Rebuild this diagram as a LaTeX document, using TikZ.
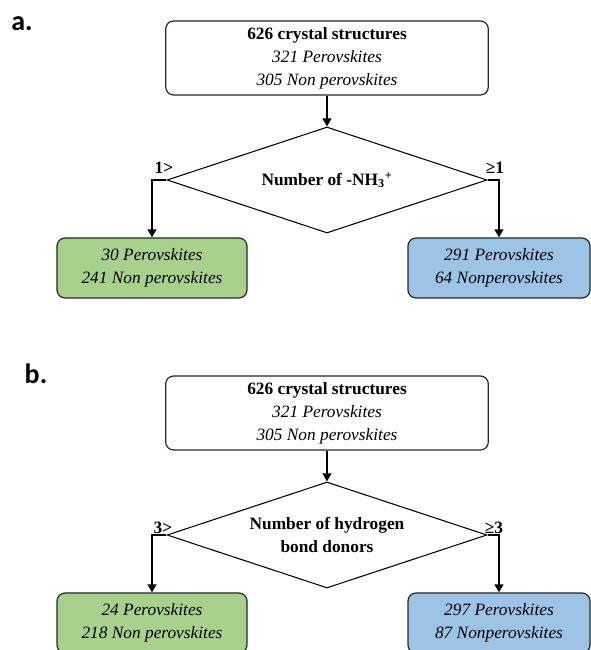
\documentclass[tikz,border=0pt]{standalone}
\usepackage{fontspec}
\setmainfont{Liberation Serif}
\newfontfamily\panelfont{Carlito}
\usetikzlibrary{shapes.geometric,arrows.meta}
\definecolor{leafgreen}{HTML}{A9D18E}
\definecolor{leafblue}{HTML}{9DC3E6}
\begin{document}
\begin{tikzpicture}[x=0.75pt, y=-0.75pt,
    every node/.style={font=\fontsize{13}{17.3}\selectfont, align=center, inner sep=0pt},
    startbox/.style={draw=black!85, line width=0.9pt, rounded corners=6pt, minimum width=242pt, minimum height=55.5pt},
    leafbox/.style={draw=black!85, line width=0.9pt, rounded corners=6pt, minimum width=142.5pt, minimum height=45pt},
    decision/.style={draw, line width=0.8pt, diamond, aspect=3, minimum width=240pt, minimum height=79.5pt},
    flow/.style={line width=1.9pt, -{Triangle[length=6pt,width=6.5pt]}},
    branch/.style={font=\fontsize{13}{15}\selectfont\bfseries},
    panel/.style={font=\fontsize{21}{21}\selectfont\panelfont\bfseries}]
    \useasboundingbox (0,0) rectangle (591,650);
    \clip (0,0) rectangle (591,650);
    \node[panel] (tagA) at (22,24) {a.};
    \node[startbox] (allA) at (327,58) {\textbf{626 crystal structures}\\ \textit{321 Perovskites}\\ \textit{305 Non perovskites}};
    \node[decision] (critA) at (327,180) {\textbf{Number of -NH\textsubscript{3}\textsuperscript{+}}};
    \node[leafbox, fill=leafgreen] (lowA) at (152,268) {\textit{30 Perovskites}\\ \textit{241 Non perovskites}};
    \node[leafbox, fill=leafblue, minimum width=136.5pt] (highA) at (499,268) {\textit{291 Perovskites}\\ \textit{64 Nonperovskites}};
    \node[branch] (ltA) at (164,168) {1>};
    \node[branch] (geA) at (495,168) {≥1};
    \draw[flow] (allA.south) -- (critA.north);
    \draw[flow] (critA.west) -| (lowA.north);
    \draw[flow] (critA.east) -| (highA.north);
    \node[panel] (tagB) at (36,374) {b.};
    \node[startbox] (allB) at (327,413) {\textbf{626 crystal structures}\\ \textit{321 Perovskites}\\ \textit{305 Non perovskites}};
    \node[decision] (critB) at (327,535) {\textbf{Number of hydrogen}\\ \textbf{bond donors}};
    \node[leafbox, fill=leafgreen] (lowB) at (152,623) {\textit{24 Perovskites}\\ \textit{218 Non perovskites}};
    \node[leafbox, fill=leafblue, minimum width=136.5pt] (highB) at (499,623) {\textit{297 Perovskites}\\ \textit{87 Nonperovskites}};
    \node[branch] (ltB) at (163,528) {3>};
    \node[branch] (geB) at (494,528) {≥3};
    \draw[flow] (allB.south) -- (critB.north);
    \draw[flow] (critB.west) -| (lowB.north);
    \draw[flow] (critB.east) -| (highB.north);
\end{tikzpicture}
\end{document}
